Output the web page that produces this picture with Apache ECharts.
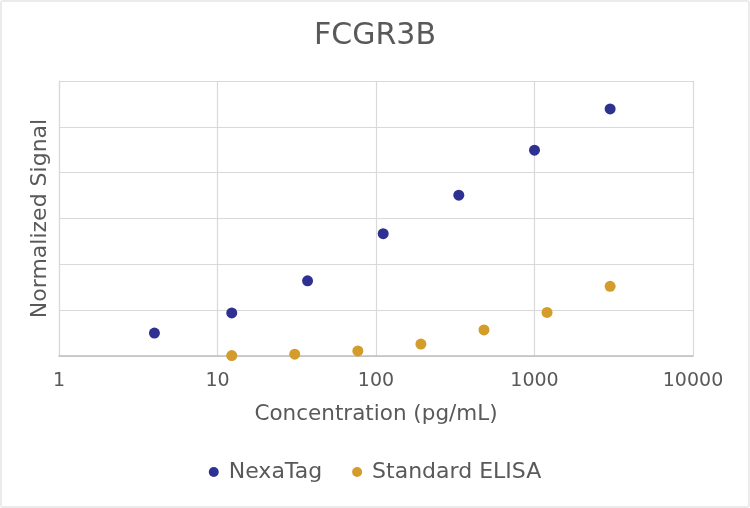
<!DOCTYPE html>
<html>
<head>
<meta charset="utf-8">
<script src="https://cdn.jsdelivr.net/npm/echarts@6/dist/echarts.min.js"></script>
<style>
    html, body { margin: 0; padding: 0; background: #fff; }
    #chart { width: 746px; height: 504px; border: 2px solid #ebebeb; border-radius: 3px; }
</style>
</head>
<body>
<div id="chart"></div>
<script>
// concentration (pg/mL) and normalized signal
var nexaConc = [4, 12.3, 37, 111, 333, 1000, 3000];
var nexaSignal = [0.5, 0.94, 1.64, 2.67, 3.51, 4.49, 5.39];
var elisaConc = [12.3, 30.7, 76.8, 192, 480, 1200, 3000];
var elisaSignal = [0.01, 0.04, 0.11, 0.26, 0.57, 0.95, 1.52];
var seriesNames = ['NexaTag', 'Standard ELISA'];

function pairs(xs, ys) {
    return xs.map(function (x, i) { return [x, ys[i]]; });
}

var textColor = '#595959';
var gridColor = '#d9d9d9';
var font = 'DejaVu Sans';

var option = {
    color: ['#2e3192', '#d49c2a'],
    backgroundColor: '#fff',
    textStyle: { fontFamily: font },
    title: {
        text: 'FCGR3B',
        left: 'center',
        top: 14,
        textStyle: { color: textColor, fontSize: 30, fontWeight: 'normal', fontFamily: font }
    },
    legend: {
        data: seriesNames,
        bottom: 18,
        left: 'center',
        icon: 'circle',
        itemWidth: 10,
        itemHeight: 10,
        itemGap: 30,
        textStyle: { color: textColor, fontSize: 22, fontFamily: font, padding: [0, 0, 0, 5] }
    },
    grid: {
        left: 57,
        right: 55,
        top: 79,
        bottom: 150
    },
    xAxis: {
        type: 'log',
        logBase: 10,
        min: 1,
        max: 10000,
        name: 'Concentration (pg/mL)',
        nameLocation: 'middle',
        nameGap: 47,
        nameTextStyle: { color: textColor, fontSize: 21.5, fontFamily: font },
        axisLine: { lineStyle: { color: '#bfbfbf', width: 1.5 } },
        axisTick: { show: false },
        axisLabel: {
            color: textColor,
            fontSize: 19,
            margin: 16,
            fontFamily: font,
            formatter: function (v) { return String(Math.round(v)); }
        },
        splitLine: { show: true, lineStyle: { color: gridColor, width: 1.2 } }
    },
    yAxis: {
        type: 'value',
        min: 0,
        max: 6,
        interval: 1,
        name: 'Normalized Signal',
        nameLocation: 'middle',
        nameGap: 8,
        nameTextStyle: { color: textColor, fontSize: 22, fontFamily: font },
        axisLine: { show: true, lineStyle: { color: gridColor, width: 1.2 } },
        axisTick: { show: false },
        axisLabel: { show: false },
        splitLine: { show: true, lineStyle: { color: gridColor, width: 1.2 } }
    },
    series: [
        {
            name: seriesNames[0],
            type: 'scatter',
            symbolSize: 11,
            itemStyle: { opacity: 1 },
            data: pairs(nexaConc, nexaSignal)
        },
        {
            name: seriesNames[1],
            type: 'scatter',
            symbolSize: 11,
            itemStyle: { opacity: 1 },
            data: pairs(elisaConc, elisaSignal)
        }
    ]
};

var myChart = echarts.init(document.getElementById('chart'));
myChart.setOption(option);
</script>
</body>
</html>
